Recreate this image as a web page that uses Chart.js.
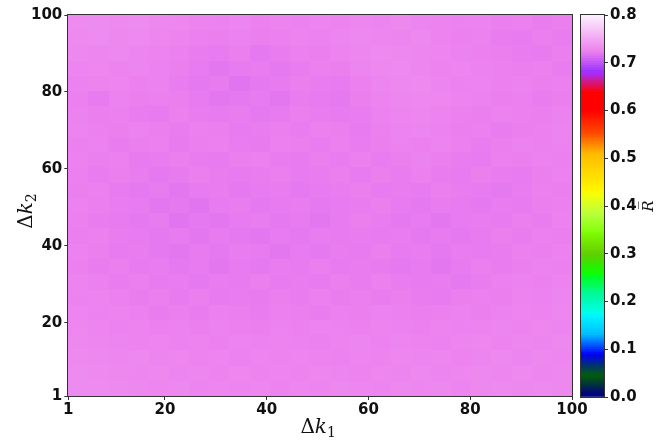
<!DOCTYPE html>
<html><head><meta charset="utf-8">
<script src="https://cdn.jsdelivr.net/npm/chart.js@4.4.1/dist/chart.umd.min.js"></script>
<style>
html,body{margin:0;padding:0;background:#fff;}
#wrap{position:relative;width:663px;height:442px;overflow:hidden;}
#main{position:absolute;left:0;top:0;}
#cbar{position:absolute;left:560px;top:0;}
</style></head><body>
<div id="wrap">
<canvas id="main" width="663" height="442"></canvas>
<canvas id="cbar" width="103" height="442"></canvas>
</div>
<script>
// ---- data ----
const xTickValues = [1, 20, 40, 60, 80, 100];
const yTickValues = [1, 20, 40, 60, 80, 100];
const cbTickValues = [0.0, 0.1, 0.2, 0.3, 0.4, 0.5, 0.6, 0.7, 0.8];
const xRange = [1, 100];
const yRange = [1, 100];
const vRange = [0.0, 0.8];
const xLabel = ['Δ', 'k', '1'];
const yLabel = ['Δ', 'k', '2'];
const cbLabel = 'R\u0305';
// mean R̄, rows from Δk2 = 100 (top) down to Δk2 = 1 (bottom), columns Δk1 = 1 → 100
const Rbar = [
[0.726,0.727,0.725,0.726,0.724,0.723,0.721,0.720,0.722,0.719,0.721,0.720,0.722,0.721,0.723,0.722,0.724,0.722,0.721,0.720,0.721,0.718,0.719,0.717,0.718],
[0.725,0.726,0.724,0.725,0.723,0.721,0.719,0.718,0.720,0.718,0.719,0.721,0.720,0.722,0.724,0.723,0.722,0.724,0.721,0.719,0.720,0.717,0.716,0.718,0.717],
[0.724,0.723,0.724,0.722,0.721,0.719,0.717,0.716,0.718,0.715,0.717,0.719,0.718,0.721,0.723,0.725,0.724,0.723,0.722,0.720,0.719,0.718,0.717,0.716,0.718],
[0.722,0.723,0.721,0.722,0.720,0.718,0.716,0.714,0.716,0.717,0.715,0.717,0.719,0.718,0.722,0.724,0.725,0.723,0.721,0.722,0.720,0.719,0.718,0.719,0.717],
[0.720,0.721,0.722,0.719,0.720,0.717,0.715,0.716,0.713,0.715,0.716,0.718,0.717,0.716,0.719,0.722,0.724,0.725,0.722,0.720,0.721,0.719,0.720,0.718,0.719],
[0.719,0.716,0.720,0.718,0.719,0.718,0.716,0.714,0.715,0.716,0.714,0.717,0.716,0.715,0.718,0.721,0.723,0.724,0.723,0.721,0.720,0.718,0.719,0.717,0.718],
[0.720,0.718,0.719,0.717,0.716,0.719,0.717,0.716,0.717,0.715,0.716,0.718,0.717,0.716,0.717,0.720,0.722,0.723,0.721,0.719,0.718,0.720,0.719,0.718,0.720],
[0.721,0.719,0.718,0.720,0.718,0.717,0.719,0.718,0.716,0.717,0.718,0.717,0.719,0.718,0.716,0.719,0.721,0.722,0.720,0.718,0.719,0.717,0.718,0.719,0.721],
[0.719,0.720,0.717,0.718,0.719,0.716,0.718,0.719,0.717,0.716,0.719,0.718,0.717,0.719,0.717,0.718,0.720,0.719,0.721,0.719,0.717,0.718,0.720,0.719,0.720],
[0.720,0.718,0.719,0.716,0.717,0.718,0.717,0.716,0.718,0.719,0.717,0.716,0.718,0.717,0.719,0.717,0.718,0.720,0.718,0.717,0.716,0.719,0.718,0.720,0.719],
[0.719,0.717,0.718,0.717,0.715,0.716,0.718,0.717,0.716,0.717,0.718,0.716,0.717,0.718,0.716,0.718,0.717,0.719,0.717,0.716,0.718,0.717,0.716,0.718,0.720],
[0.718,0.719,0.716,0.715,0.716,0.714,0.716,0.717,0.715,0.716,0.717,0.715,0.716,0.717,0.718,0.716,0.717,0.716,0.718,0.717,0.716,0.715,0.717,0.719,0.718],
[0.720,0.718,0.717,0.716,0.714,0.715,0.713,0.716,0.717,0.715,0.716,0.717,0.715,0.716,0.717,0.718,0.716,0.715,0.717,0.716,0.715,0.717,0.716,0.718,0.719],
[0.719,0.717,0.716,0.715,0.716,0.713,0.715,0.714,0.716,0.717,0.715,0.716,0.714,0.716,0.718,0.717,0.715,0.716,0.714,0.716,0.717,0.716,0.718,0.717,0.720],
[0.718,0.719,0.717,0.716,0.715,0.716,0.714,0.716,0.715,0.714,0.716,0.715,0.717,0.716,0.717,0.716,0.717,0.715,0.716,0.715,0.716,0.718,0.717,0.719,0.718],
[0.720,0.718,0.716,0.717,0.715,0.714,0.716,0.715,0.717,0.716,0.714,0.716,0.715,0.717,0.716,0.718,0.716,0.717,0.715,0.717,0.716,0.717,0.719,0.718,0.720],
[0.719,0.717,0.718,0.716,0.717,0.715,0.716,0.714,0.716,0.715,0.717,0.716,0.718,0.716,0.717,0.716,0.715,0.716,0.714,0.716,0.718,0.717,0.718,0.720,0.719],
[0.721,0.719,0.717,0.718,0.716,0.717,0.715,0.717,0.716,0.718,0.716,0.717,0.716,0.718,0.717,0.719,0.717,0.716,0.717,0.715,0.717,0.719,0.720,0.719,0.721],
[0.720,0.721,0.719,0.717,0.718,0.716,0.718,0.716,0.717,0.716,0.718,0.717,0.719,0.717,0.718,0.717,0.718,0.717,0.716,0.718,0.719,0.718,0.721,0.720,0.722],
[0.722,0.720,0.721,0.719,0.717,0.718,0.717,0.719,0.718,0.717,0.719,0.718,0.717,0.719,0.718,0.720,0.719,0.718,0.719,0.720,0.718,0.720,0.722,0.721,0.723],
[0.723,0.722,0.720,0.721,0.719,0.720,0.718,0.720,0.719,0.718,0.720,0.719,0.721,0.720,0.719,0.721,0.720,0.719,0.721,0.720,0.721,0.722,0.721,0.723,0.722],
[0.724,0.723,0.722,0.721,0.722,0.720,0.721,0.719,0.721,0.720,0.721,0.720,0.719,0.721,0.722,0.720,0.722,0.721,0.720,0.722,0.723,0.721,0.723,0.722,0.724],
[0.725,0.724,0.723,0.724,0.722,0.723,0.721,0.722,0.720,0.722,0.721,0.722,0.721,0.720,0.722,0.721,0.723,0.722,0.723,0.721,0.722,0.724,0.722,0.724,0.723],
[0.726,0.725,0.724,0.723,0.724,0.722,0.723,0.721,0.723,0.721,0.722,0.721,0.723,0.722,0.721,0.723,0.722,0.724,0.722,0.723,0.724,0.723,0.725,0.723,0.724],
[0.727,0.726,0.725,0.724,0.723,0.724,0.722,0.723,0.722,0.723,0.721,0.723,0.722,0.724,0.723,0.722,0.724,0.723,0.724,0.722,0.724,0.725,0.724,0.725,0.724]
];

// ---- colormap (matplotlib gist_ncar segment data) ----
const NCAR = {
  r: [[0,0],[0.3098,0],[0.3725,0.3993],[0.4235,0.5003],[0.5333,1],[0.7922,1],[0.8471,0.6218],[0.898,0.9235],[1,0.9961]],
  g: [[0,0],[0.051,0.3722],[0.1059,0],[0.1569,0.7202],[0.1608,0.7537],[0.1647,0.7752],[0.2157,1],[0.2588,0.9804],[0.2706,0.9804],[0.3176,1],[0.3686,0.8081],[0.4275,1],[0.5216,1],[0.6314,0.7292],[0.6863,0.2796],[0.7451,0],[0.7922,0],[0.8431,0.1753],[0.898,0.5],[1,0.9725]],
  b: [[0,0.502],[0.051,0.0222],[0.1098,1],[0.2039,1],[0.2627,0.6145],[0.3216,0],[0.4157,0],[0.4745,0.2342],[0.5333,0],[0.7922,0],[0.8431,1],[0.898,0.9341],[1,0.9961]]
};
function seg(p, t) {
  for (let i = 1; i < p.length; i++) {
    if (t <= p[i][0]) { const a = p[i-1], b = p[i]; return a[1] + (b[1]-a[1]) * (t-a[0]) / (b[0]-a[0]); }
  }
  return p[p.length-1][1];
}
function cmap(v) {
  const t = Math.min(1, Math.max(0, (v - vRange[0]) / (vRange[1] - vRange[0])));
  return 'rgb(' + Math.round(seg(NCAR.r,t)*255) + ',' + Math.round(seg(NCAR.g,t)*255) + ',' + Math.round(seg(NCAR.b,t)*255) + ')';
}

// ---- cell table built from the data ----
const nRows = Rbar.length, nCols = Rbar[0].length;
const cw = (xRange[1]-xRange[0]) / nCols, ch = (yRange[1]-yRange[0]) / nRows;
const cells = [];
Rbar.forEach((row, ri) => row.forEach((v, ci) => {
  cells.push({ x: xRange[0] + (ci + 0.5) * cw, y: yRange[1] - (ri + 0.5) * ch, v: v });
}));

const TICK_FONT = { family: 'DejaVu Sans', weight: 'bold', size: 15 };
const AX = '#333333';

function drawMathLabel(ctx, parts, size) {
  const f1 = size + 'px "DejaVu Serif"';
  const f2 = 'italic ' + size + 'px "DejaVu Serif"';
  const f3 = Math.round(size * 0.7) + 'px "DejaVu Serif"';
  ctx.font = f1; const w1 = ctx.measureText(parts[0]).width;
  ctx.font = f2; const w2 = ctx.measureText(parts[1]).width;
  ctx.font = f3; const w3 = ctx.measureText(parts[2]).width;
  let x = -(w1 + w2 + w3) / 2;
  ctx.textBaseline = 'alphabetic'; ctx.textAlign = 'left';
  ctx.font = f1; ctx.fillText(parts[0], x, 0); x += w1;
  ctx.font = f2; ctx.fillText(parts[1], x, 0); x += w2;
  ctx.font = f3; ctx.fillText(parts[2], x, size * 0.22);
}

function frame(chart) {
  const { ctx, chartArea: a } = chart;
  ctx.save();
  ctx.strokeStyle = AX; ctx.lineWidth = 1;
  ctx.strokeRect(Math.round(a.left) - 0.5, Math.round(a.top) - 0.5, Math.round(a.right) - Math.round(a.left) + 1, Math.round(a.bottom) - Math.round(a.top) + 1);
  ctx.restore();
}

const heatPlugin = {
  id: 'heat',
  beforeDatasetsDraw(chart) {
    const { ctx, scales: { x, y } } = chart;
    const ds = chart.data.datasets[0].data;
    ctx.save();
    for (const d of ds) {
      const l = Math.round(x.getPixelForValue(d.x - cw/2));
      const r = Math.round(x.getPixelForValue(d.x + cw/2));
      const t = Math.round(y.getPixelForValue(d.y + ch/2));
      const b = Math.round(y.getPixelForValue(d.y - ch/2));
      ctx.fillStyle = cmap(d.v);
      ctx.fillRect(l, t, r - l, b - t);
    }
    ctx.restore();
  },
  afterDatasetsDraw(chart) { frame(chart); },
  afterDraw(chart) {
    const { ctx, chartArea: a } = chart;
    ctx.save();
    ctx.fillStyle = '#111';
    ctx.translate((a.left + a.right) / 2 - 2, 433);
    drawMathLabel(ctx, xLabel, 20);
    ctx.restore();
    ctx.save();
    ctx.fillStyle = '#111';
    ctx.translate(32, 211);
    ctx.rotate(-Math.PI / 2);
    drawMathLabel(ctx, yLabel, 20);
    ctx.restore();
  }
};

function fixedTicks(values) {
  return function (scale) { scale.ticks = values.map(v => ({ value: v })); };
}

new Chart(document.getElementById('main'), {
  type: 'scatter',
  data: { datasets: [{ data: cells, pointRadius: 0, pointHoverRadius: 0, showLine: false }] },
  options: {
    responsive: false, animation: false, events: [],
    layout: { padding: { left: 29, right: 91, top: 15, bottom: 22 } },
    plugins: { legend: { display: false }, tooltip: { enabled: false } },
    scales: {
      x: {
        type: 'linear', min: xRange[0], max: xRange[1],
        afterBuildTicks: fixedTicks(xTickValues),
        grid: { drawOnChartArea: false, drawTicks: true, tickLength: 4, color: AX },
        border: { display: false },
        ticks: { font: TICK_FONT, color: '#111', padding: 1, maxRotation: 0, autoSkip: false }
      },
      y: {
        type: 'linear', min: yRange[0], max: yRange[1],
        afterBuildTicks: fixedTicks(yTickValues),
        grid: { drawOnChartArea: false, drawTicks: true, tickLength: 4, color: AX },
        border: { display: false },
        ticks: { font: TICK_FONT, color: '#111', padding: 2, autoSkip: false }
      }
    }
  },
  plugins: [heatPlugin]
});

// ---- colour bar ----
const cbStep = 0.005;
const cbDatasets = [];
for (let lo = vRange[0]; lo < vRange[1] - 1e-9; lo += cbStep) {
  const hi = Math.min(vRange[1], lo + cbStep);
  cbDatasets.push({
    data: [[lo, Math.min(vRange[1], hi + 0.004)]],
    backgroundColor: cmap((lo + hi) / 2),
    borderWidth: 0, grouped: false, barPercentage: 1, categoryPercentage: 1
  });
}
const cbPlugin = {
  id: 'cbframe',
  afterDatasetsDraw(chart) { frame(chart); },
  afterDraw(chart) {
    const { ctx, chartArea: a } = chart;
    ctx.save();
    ctx.fillStyle = '#111';
    ctx.translate(93, (a.top + a.bottom) / 2);
    ctx.rotate(-Math.PI / 2);
    ctx.font = 'italic 15px "DejaVu Serif"';
    ctx.textAlign = 'center'; ctx.textBaseline = 'alphabetic';
    ctx.fillText(cbLabel, 0, 0);
    ctx.restore();
  }
};
new Chart(document.getElementById('cbar'), {
  type: 'bar',
  data: { labels: ['R'], datasets: cbDatasets },
  options: {
    responsive: false, animation: false, events: [],
    layout: { padding: { left: 21, right: 19, top: 15, bottom: 45 } },
    plugins: { legend: { display: false }, tooltip: { enabled: false } },
    scales: {
      x: { display: false },
      y: {
        position: 'right', min: vRange[0], max: vRange[1],
        afterBuildTicks: fixedTicks(cbTickValues),
        afterFit: s => { s.width = 40; },
        grid: { drawOnChartArea: false, drawTicks: true, tickLength: 4, color: AX },
        border: { display: false },
        ticks: { font: TICK_FONT, color: '#111', padding: 2, autoSkip: false, callback: v => v.toFixed(1) }
      }
    }
  },
  plugins: [cbPlugin]
});
</script>
</body></html>
